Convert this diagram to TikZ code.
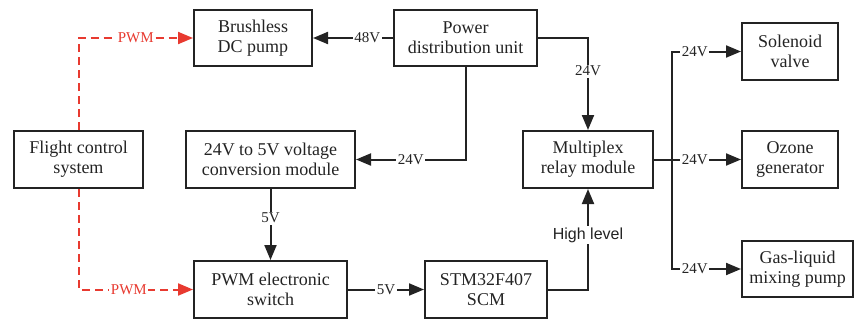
\documentclass[tikz,border=0pt]{standalone}
\usepackage{fontspec}
\setmainfont{Liberation Serif}
\newfontfamily\levelfont{Liberation Sans}
\usetikzlibrary{arrows.meta,positioning,calc}

\definecolor{boxgray}{RGB}{35,35,35}
\definecolor{pwmred}{RGB}{232,58,48}

\tikzset{
  block/.style={rectangle,draw=boxgray,line width=2pt,text=boxgray,align=center,
    font=\fontsize{18}{20}\selectfont,inner sep=2pt},
  wire/.style={draw=boxgray,line width=2pt},
  link/.style={wire,-{Triangle[length=15pt,width=12pt]}},
  pwmlink/.style={draw=pwmred,line width=2pt,dash pattern=on 8pt off 5pt,
    -{Triangle[length=15pt,width=12pt]}},
  volt/.style={fill=white,inner sep=1.5pt,text=boxgray,font=\fontsize{15}{15}\selectfont},
  pwmtag/.style={fill=white,inner sep=1.5pt,text=pwmred,font=\fontsize{15}{15}\selectfont},
}

\begin{document}
\begin{tikzpicture}[x=1pt,y=-1pt]
\useasboundingbox (0,0) rectangle (854,322);

% Blocks
\node[block,minimum width=118pt,minimum height=56pt] (pump) at (253,38) {Brushless\\DC pump};
\node[block,minimum width=143pt,minimum height=56pt] (pdu) at (465.5,38) {Power\\distribution unit};
\node[block,minimum width=129pt,minimum height=57pt] (fcs) at (78.5,159.5) {Flight control\\system};
\node[block,minimum width=169pt,minimum height=57pt] (conv) at (270.5,159.5) {24V to 5V voltage\\conversion module};
\node[block,minimum width=130pt,minimum height=57pt] (relay) at (588,159.5) {Multiplex\\relay module};
\node[block,minimum width=96pt,minimum height=57pt] (valve) at (790,51.5) {Solenoid\\valve};
\node[block,minimum width=96pt,minimum height=57pt] (ozone) at (790,159.5) {Ozone\\generator};
\node[block,minimum width=111pt,minimum height=56pt] (mixpump) at (797.5,269) {Gas-liquid\\mixing pump};
\node[block,minimum width=153pt,minimum height=57pt] (pwmsw) at (270.5,289.5) {PWM electronic\\switch};
\node[block,minimum width=122pt,minimum height=57pt] (stm) at (486,289.5) {STM32F407\\SCM};

\coordinate (split) at (672,159.5);

% Power lines
\draw[link] (pdu) -- node[volt,pos=0.32]{48V} (pump);
\draw[link] (pdu.east) -| node[volt,pos=0.68]{24V} (relay.north);
\draw[link] (pdu.south) |- node[volt,pos=0.75]{24V} (conv.east);
\draw[link] (conv) -- node[volt,pos=0.41]{5V} (pwmsw);
\draw[link] (pwmsw) -- node[volt]{5V} (stm);
\draw[link] (stm.east) -| node[volt,pos=0.77,font=\levelfont\fontsize{16}{16}\selectfont]{High level} (relay.south);

% Relay outputs
\draw[wire] (relay.east) -- (split);
\draw[link] (split) |- node[volt,pos=0.665]{24V} (valve.west);
\draw[link] (split) -- node[volt,pos=0.33]{24V} (ozone.west);
\draw[link] (split) |- node[volt,pos=0.665]{24V} (mixpump.west);

% PWM signals
\draw[pwmlink] (fcs.north) |- node[pwmtag,pos=0.75]{PWM} (pump.west);
\draw[pwmlink] (fcs.south) |- node[pwmtag,pos=0.72]{PWM} (pwmsw.west);
\end{tikzpicture}
\end{document}
